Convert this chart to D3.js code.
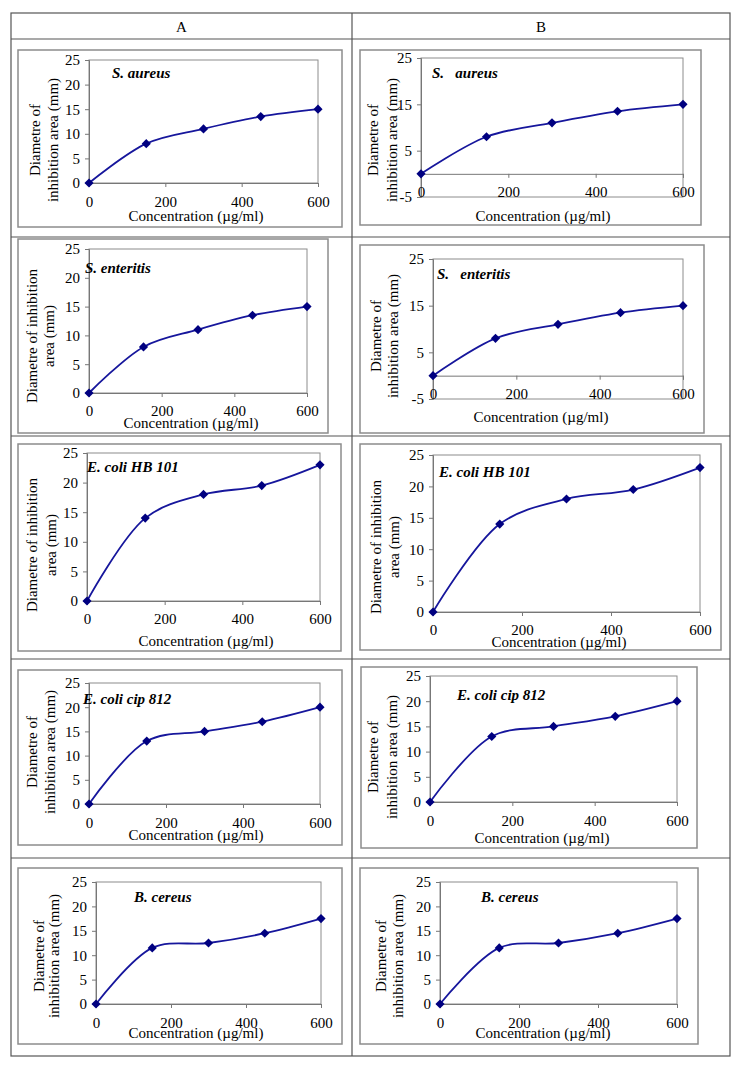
<!DOCTYPE html>
<html>
<head>
<meta charset="utf-8">
<script src="https://cdn.jsdelivr.net/npm/d3@7"></script>
<style>
  html, body { margin: 0; padding: 0; background: #fff; }
  svg text { font-family: "Liberation Serif", "Times New Roman", serif; fill: #000; }
</style>
</head>
<body>
<svg id="chart" width="742" height="1070"></svg>
<script>
// ---------- DATA ----------
const concentrations = [0, 150, 300, 450, 600];
const sAureus      = [0, 8, 11, 13.5, 15];
const sEnteritis   = [0, 8, 11, 13.5, 15];
const eColiHB101   = [0, 14, 18, 19.5, 23];
const eColiCip812  = [0, 13, 15, 17, 20];
const bCereus      = [0, 11.5, 12.5, 14.5, 17.5];
const xTicks       = [0, 200, 400, 600];
const yTicksStd    = [0, 5, 10, 15, 20, 25];
const yTicksNeg    = [-5, 5, 15, 25];
const columnHeads  = ["A", "B"];
const xTitle       = "Concentration (\u00b5g/ml)";

// ---------- LAYOUT ----------
const panels = [
  {name:"S. aureus", vals:sAureus, yDom:[0,25], yTicks:yTicksStd,
   frame:[18,50,342,227], plot:[89,318,60,183], xLabY:202, xt:[196,216],
   lab:[112,73], titles:[["Diametre of",35],["inhibition area (mm)",53]], tcy:140},
  {name:"S.   aureus", vals:sAureus, yDom:[-5,25], yTicks:yTicksNeg,
   frame:[360,50,701,225], plot:[421,683,58,197], xLabY:192, xt:[543,216],
   lab:[432,73], titles:[["Diametre of",373],["inhibition area (mm)",392]], tcy:140},
  {name:"S. enteritis", vals:sEnteritis, yDom:[0,25], yTicks:yTicksStd,
   frame:[18,239,328,433], plot:[89,307,249,393], xLabY:411, xt:[191,423],
   lab:[85,268], titles:[["Diametre of inhibition",32],["area (mm)",49]], tcy:336},
  {name:"S.   enteritis", vals:sEnteritis, yDom:[-5,25], yTicks:yTicksNeg,
   frame:[360,245,704,433], plot:[433,683,259,399], xLabY:394, xt:[541,417],
   lab:[437,274], titles:[["Diametre of",376],["inhibition area (mm)",393]], tcy:336},
  {name:"E. coli HB 101", vals:eColiHB101, yDom:[0,25], yTicks:yTicksStd,
   frame:[18,444,341,651], plot:[87,320,453,601], xLabY:619, xt:[206,641],
   lab:[87,467], titles:[["Diametre of inhibition",32],["area (mm)",51]], tcy:545},
  {name:"E. coli HB 101", vals:eColiHB101, yDom:[0,25], yTicks:yTicksStd,
   frame:[360,444,721,650], plot:[433,700,455,612], xLabY:630, xt:[559,642],
   lab:[439,472], titles:[["Diametre of inhibition",376],["area (mm)",394]], tcy:547},
  {name:"E. coli cip 812", vals:eColiCip812, yDom:[0,25], yTicks:yTicksStd,
   frame:[18,670,342,845], plot:[89,320,683,804], xLabY:823, xt:[196,835],
   lab:[83,699], titles:[["Diametre of",32],["inhibition area (mm)",50]], tcy:752},
  {name:"E. coli cip 812", vals:eColiCip812, yDom:[0,25], yTicks:yTicksStd,
   frame:[361,667,697,848], plot:[430,677,676,802], xLabY:821, xt:[542,838],
   lab:[457,695], titles:[["Diametre of",373],["inhibition area (mm)",392]], tcy:757},
  {name:"B. cereus", vals:bCereus, yDom:[0,25], yTicks:yTicksStd,
   frame:[18,868,342,1044], plot:[96,321,882,1004], xLabY:1023, xt:[196,1033],
   lab:[134,897], titles:[["Diametre of",39],["inhibition area (mm)",54]], tcy:956},
  {name:"B. cereus", vals:bCereus, yDom:[0,25], yTicks:yTicksStd,
   frame:[360,868,698,1044], plot:[440,677,882,1004], xLabY:1023, xt:[543,1033],
   lab:[481,897], titles:[["Diametre of",381],["inhibition area (mm)",398]], tcy:956}
];

const svg = d3.select("#chart");
const FS = 15;
const gridColor = "#555";
const frameColor = "#8c8c8c";
const lineColor = "#16169c";
const markColor = "#000080";
const fmt = d => String(d);

// ---------- TABLE ----------
const T = {l:11, r:730, t:13, b:1056, mid:352, rows:[39,237,436,659,858]};
svg.append("rect").attr("x",T.l).attr("y",T.t).attr("width",T.r-T.l).attr("height",T.b-T.t)
  .attr("fill","none").attr("stroke",gridColor).attr("stroke-width",1.2);
svg.append("line").attr("x1",T.mid).attr("x2",T.mid).attr("y1",T.t).attr("y2",T.b)
  .attr("stroke",gridColor).attr("stroke-width",1.2);
T.rows.forEach(y => svg.append("line").attr("x1",T.l).attr("x2",T.r).attr("y1",y).attr("y2",y)
  .attr("stroke",gridColor).attr("stroke-width",1.2));
svg.selectAll("text.head").data(columnHeads).join("text").attr("class","head")
  .attr("x",(d,i)=> i===0 ? (T.l+T.mid)/2 : (T.mid+T.r)/2)
  .attr("y",(T.t+T.rows[0])/2+1).attr("dy","0.35em").attr("text-anchor","middle")
  .style("font-size",FS+"px").text(d=>d);

// ---------- PANELS ----------
panels.forEach(p => {
  const g = svg.append("g");
  const [fx0,fy0,fx1,fy1] = p.frame;
  g.append("rect").attr("x",fx0).attr("y",fy0).attr("width",fx1-fx0).attr("height",fy1-fy0)
    .attr("fill","#fff").attr("stroke",frameColor).attr("stroke-width",1.5);

  const [pl,pr,pt,pb] = p.plot;
  const x = d3.scaleLinear().domain([0,600]).range([pl,pr]);
  const y = d3.scaleLinear().domain(p.yDom).range([pb,pt]);

  g.append("rect").attr("x",pl).attr("y",pt).attr("width",pr-pl).attr("height",pb-pt)
    .attr("fill","none").attr("stroke",frameColor).attr("stroke-width",1);

  // y axis
  const ya = g.append("g").attr("transform",`translate(${pl},0)`)
    .call(d3.axisLeft(y).tickValues(p.yTicks).tickSize(4).tickPadding(5).tickFormat(fmt));
  ya.select(".domain").attr("stroke","#777");
  ya.selectAll(".tick line").attr("stroke","#777");
  ya.selectAll("text").style("font-size",FS+"px").attr("font-family",null);

  // x axis at y=0
  const axY = y(0);
  const xa = g.append("g").attr("transform",`translate(0,${axY})`)
    .call(d3.axisBottom(x).tickValues(xTicks).tickSize(4).tickFormat(fmt));
  xa.select(".domain").attr("stroke","#777");
  xa.selectAll(".tick line").attr("stroke","#777");
  xa.selectAll("text").style("font-size",FS+"px").attr("font-family",null)
    .attr("y", p.xLabY - axY).attr("dy","0.35em");

  // axis titles
  g.append("text").attr("x",p.xt[0]).attr("y",p.xt[1]).attr("dy","0.35em")
    .attr("text-anchor","middle").style("font-size",FS+"px").text(xTitle);
  p.titles.forEach(([t,tx]) => {
    g.append("text").attr("transform",`translate(${tx},${p.tcy}) rotate(-90)`)
      .attr("dy","0.35em").attr("text-anchor","middle").style("font-size",FS+"px").text(t);
  });

  // species label
  g.append("text").attr("x",p.lab[0]).attr("y",p.lab[1]).attr("dy","0.35em")
    .style("font-size","15px").style("font-weight","bold").style("font-style","italic")
    .style("white-space","pre").text(p.name);

  // series
  const pts = concentrations.map((c,i)=>[c,p.vals[i]]);
  g.append("path").datum(pts)
    .attr("d", d3.line().x(d=>x(d[0])).y(d=>y(d[1])).curve(d3.curveCatmullRom.alpha(0.5)))
    .attr("fill","none").attr("stroke",lineColor).attr("stroke-width",1.8);
  g.selectAll("path.mk").data(pts).join("path").attr("class","mk")
    .attr("transform",d=>`translate(${x(d[0])},${y(d[1])}) rotate(45)`)
    .attr("d", d3.symbol().type(d3.symbolSquare).size(42))
    .attr("fill",markColor);
});
</script>
</body>
</html>
